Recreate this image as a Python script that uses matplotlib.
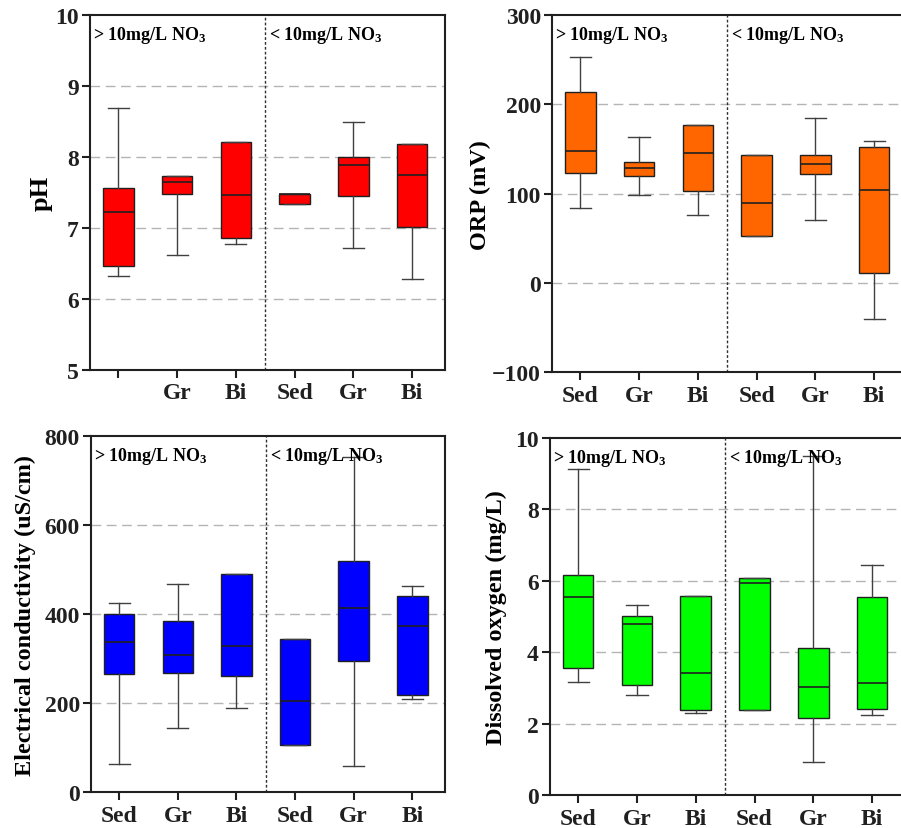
import matplotlib
matplotlib.use('Agg')
import matplotlib.pyplot as plt
import matplotlib.transforms as mtransforms

plt.rcParams['font.family'] = ['Liberation Serif', 'DejaVu Serif']
plt.rcParams['font.weight'] = 'bold'
plt.rcParams['mathtext.default'] = 'regular'

# box stats: whislo, q1, med, q3, whishi  (order: Sed, Gr, Bi | Sed, Gr, Bi)
ph_lo  = [6.33, 6.62, 6.78, 7.34, 6.72, 6.28]
ph_q1  = [6.47, 7.48, 6.86, 7.34, 7.45, 7.02]
ph_med = [7.23, 7.65, 7.46, 7.48, 7.89, 7.75]
ph_q3  = [7.57, 7.74, 8.21, 7.48, 8.00, 8.18]
ph_hi  = [8.69, 7.74, 8.21, 7.48, 8.50, 8.19]

orp_lo  = [84, 98, 76, 52, 70, -40]
orp_q1  = [123, 120, 103, 52, 122, 11]
orp_med = [148, 129, 146, 89, 133, 104]
orp_q3  = [214, 135, 177, 143, 143, 152]
orp_hi  = [253, 163, 177, 143, 185, 159]

ec_lo  = [62, 145, 189, 106, 59, 210]
ec_q1  = [266, 267, 261, 106, 295, 217]
ec_med = [338, 308, 329, 205, 414, 372]
ec_q3  = [399, 385, 489, 345, 520, 440]
ec_hi  = [425, 468, 489, 345, 754, 464]

do_lo  = [3.17, 2.80, 2.31, 2.39, 0.92, 2.24]
do_q1  = [3.56, 3.07, 2.38, 2.39, 2.17, 2.42]
do_med = [5.54, 4.80, 3.43, 5.93, 3.03, 3.15]
do_q3  = [6.16, 5.02, 5.57, 6.09, 4.12, 5.55]
do_hi  = [9.12, 5.32, 5.57, 6.09, 9.49, 6.43]

labels = ['Sed', 'Gr', 'Bi', 'Sed', 'Gr', 'Bi']
ph_labels = ['', 'Gr', 'Bi', 'Sed', 'Gr', 'Bi']

panels = [
    dict(rect=[0.100, 0.5525, 0.394, 0.428], stats=(ph_lo, ph_q1, ph_med, ph_q3, ph_hi),
         color='#ff0000', ylim=(5, 10), ticks=[5, 6, 7, 8, 9, 10], grid=[6, 7, 8, 9],
         ylabel='pH', ylsize=19, xl=ph_labels, lp=2),
    dict(rect=[0.6127, 0.550, 0.394, 0.4306], stats=(orp_lo, orp_q1, orp_med, orp_q3, orp_hi),
         color='#ff6600', ylim=(-100, 300), ticks=[-100, 0, 100, 200, 300], grid=[0, 100, 200],
         ylabel='ORP (mV)', ylsize=17.5, xl=labels, lp=1),
    dict(rect=[0.101, 0.0434, 0.393, 0.4294], stats=(ec_lo, ec_q1, ec_med, ec_q3, ec_hi),
         color='#0000ff', ylim=(0, 800), ticks=[0, 200, 400, 600, 800], grid=[200, 400, 600],
         ylabel='Electrical conductivity (uS/cm)', ylsize=17.5, xl=labels, lp=6),
    dict(rect=[0.6104, 0.0398, 0.394, 0.4306], stats=(do_lo, do_q1, do_med, do_q3, do_hi),
         color='#00ff00', ylim=(0, 10), ticks=[0, 2, 4, 6, 8, 10], grid=[2, 4, 6, 8],
         ylabel='Dissolved oxygen (mg/L)', ylsize=17.5, xl=labels, lp=6),
]

fig = plt.figure(figsize=(9.01, 8.29), dpi=100)

for p in panels:
    ax = fig.add_axes(p['rect'])
    lo, q1, med, q3, hi = p['stats']
    bstats = [dict(whislo=lo[i], q1=q1[i], med=med[i], q3=q3[i], whishi=hi[i], fliers=[])
              for i in range(6)]
    for g in p['grid']:
        ax.axhline(g, color='#b4b4b4', lw=1.0, dashes=(7, 4), zorder=0)
    ax.bxp(bstats, positions=range(1, 7), widths=0.52, capwidths=0.36, patch_artist=True,
           showfliers=False,
           boxprops=dict(facecolor=p['color'], edgecolor='#202020', lw=1.0),
           medianprops=dict(color='#202020', lw=1.2),
           whiskerprops=dict(color='#404040', lw=1.0),
           capprops=dict(color='#404040', lw=1.0))
    ax.axvline(3.5, color='#303030', lw=1.0, ls=(0, (2, 1.5)), zorder=1)
    ax.set_xlim(0.52, 6.56)
    ax.set_ylim(*p['ylim'])
    ax.set_yticks(p['ticks'])
    ax.set_xticks(range(1, 7))
    ax.set_xticklabels(p['xl'])
    ax.tick_params(axis='both', labelsize=17, width=1.5, length=6, direction='out',
                   colors='#202020')
    ax.tick_params(axis='x', pad=3)
    ax.tick_params(axis='y', pad=2)
    for lab in ax.get_xticklabels() + ax.get_yticklabels():
        lab.set_fontweight('bold')
    for s in ax.spines.values():
        s.set_linewidth(1.5)
        s.set_color('#202020')
    ax.set_ylabel(p['ylabel'], fontsize=p['ylsize'], fontweight='bold', labelpad=p['lp'])
    trans = mtransforms.blended_transform_factory(ax.transData, ax.transAxes)
    ax.text(0.57, 0.975, '> 10mg/L NO$_3$', transform=trans, ha='left', va='top',
            fontsize=13, fontweight='bold')
    ax.text(3.57, 0.975, '< 10mg/L NO$_3$', transform=trans, ha='left', va='top',
            fontsize=13, fontweight='bold')

fig.savefig('out.png', dpi=100)
